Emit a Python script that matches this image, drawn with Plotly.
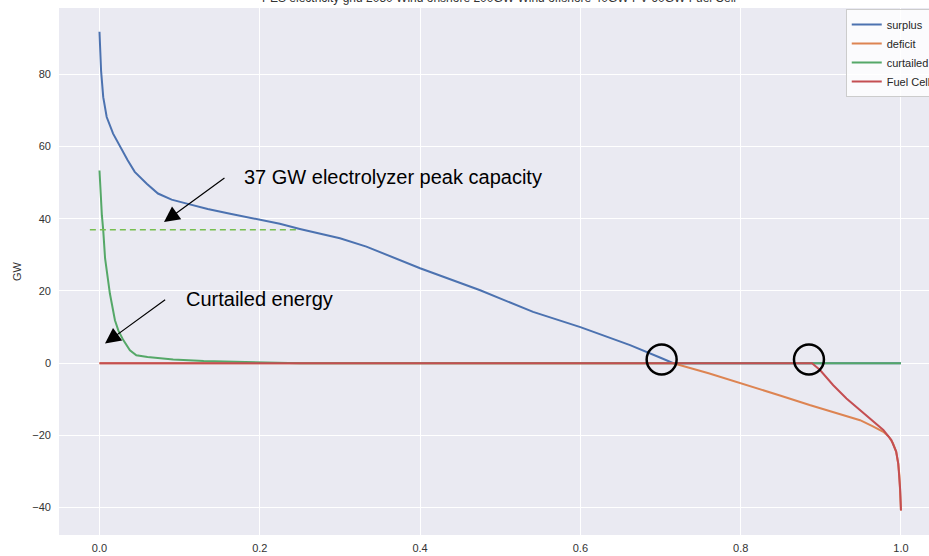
import plotly.graph_objects as go

# ---------------- data ----------------
surplus_x = [0.0, 0.001, 0.002, 0.0047, 0.009, 0.017, 0.0256, 0.035, 0.044, 0.059, 0.073, 0.09,
             0.109, 0.135, 0.163, 0.2, 0.225, 0.25, 0.3, 0.333, 0.4, 0.475, 0.541, 0.6, 0.662,
             0.7, 0.716, 0.8, 0.9, 1.0]
surplus_y = [91.8, 86.0, 81.0, 73.7, 68.2, 63.6, 59.9, 56.3, 53.0, 49.7, 47.0, 45.3,
             44.2, 42.7, 41.4, 39.7, 38.6, 37.2, 34.6, 32.3, 26.3, 20.2, 14.2, 10.0, 5.0,
             1.5, 0.0, 0.0, 0.0, 0.0]

deficit_x = [0.0, 0.3, 0.6, 0.716, 0.76, 0.803, 0.85, 0.886, 0.92, 0.949, 0.965, 0.978,
             0.985, 0.99, 0.994, 0.9966, 0.998, 0.999, 1.0]
deficit_y = [0.0, 0.0, 0.0, 0.0, -2.8, -5.7, -9.0, -11.6, -13.9, -15.8, -17.5, -19.0,
             -20.4, -22.2, -24.5, -27.8, -31.0, -35.0, -40.8]

curtailed_x = [0.0, 0.001, 0.003, 0.0047, 0.007, 0.013, 0.0193, 0.0235, 0.0297, 0.038, 0.046,
               0.06, 0.092, 0.13, 0.175, 0.21, 0.25, 0.5, 0.75, 1.0]
curtailed_y = [53.4, 48.0, 41.0, 36.8, 29.0, 19.3, 11.9, 9.1, 6.4, 3.6, 2.2,
               1.7, 1.0, 0.6, 0.36, 0.1, 0.0, 0.0, 0.0, 0.0]

fuelcell_x = [0.0, 0.3, 0.6, 0.889, 0.899, 0.9155, 0.932, 0.949, 0.965, 0.978, 0.988,
              0.992, 0.994, 0.9966, 0.998, 0.999, 1.0]
fuelcell_y = [0.0, 0.0, 0.0, 0.0, -1.9, -6.1, -9.8, -13.0, -15.8, -18.5, -21.3,
              -23.3, -24.5, -27.8, -31.0, -35.0, -40.8]

series_names = ["surplus", "deficit", "curtailed", "Fuel Cell"]
series_colors = ["#4C72B0", "#DD8452", "#55A868", "#C44E52"]

x_ticks = [0.0, 0.2, 0.4, 0.6, 0.8, 1.0]
y_ticks = [-40, -20, 0, 20, 40, 60, 80]

electrolyzer_cap = 37.0
electrolyzer_x = [-0.012, 0.25]

title_text = "PES electricity grid 2050 Wind onshore 200GW Wind offshore 40GW PV 60GW Fuel Cell"

# ---------------- figure ----------------
fig = go.Figure()
for xs, ys, name, col in zip([surplus_x, deficit_x, curtailed_x, fuelcell_x],
                             [surplus_y, deficit_y, curtailed_y, fuelcell_y],
                             series_names, series_colors):
    fig.add_trace(go.Scatter(x=xs, y=ys, mode="lines", name=name,
                             line=dict(color=col, width=2)))

# dashed electrolyzer capacity line
fig.add_trace(go.Scatter(x=electrolyzer_x, y=[electrolyzer_cap, electrolyzer_cap], mode="lines",
                         showlegend=False, hoverinfo="skip",
                         line=dict(color="#78BE50", width=1.5, dash="6px,4px")))

font_ann = "Liberation Sans, Arial, sans-serif"
# the original axes extend past the right edge of the 929-px window (legend cut off)
fig.update_layout(
    width=942, height=556,
    margin=dict(l=59, r=0, t=8, b=21),
    paper_bgcolor="white",
    plot_bgcolor="#EAEAF2",
    font=dict(family="Liberation Sans, Arial, sans-serif", size=11, color="#333333"),
    xaxis=dict(range=[-0.0505, 1.0512], tickvals=x_ticks, tickformat=".1f",
               showgrid=True, gridcolor="white", gridwidth=1.2, zeroline=False,
               showline=False, ticks="", ticklabelstandoff=5),
    yaxis=dict(range=[-47.6, 98.4], tickvals=y_ticks,
               showgrid=True, gridcolor="white", gridwidth=1.2, zeroline=False,
               showline=False, ticks="", ticklabelstandoff=7,
               title=dict(text="GW", standoff=8, font=dict(size=11, color="#333333"))),
    legend=dict(x=0.891, y=0.998, xanchor="left", yanchor="top",
                bgcolor="rgba(255,255,255,0.8)", bordercolor="#CCCCCC", borderwidth=1,
                font=dict(size=11, color="#262626"), tracegroupgap=0),
    showlegend=True,
)

# annotations: texts and arrows
fig.add_annotation(x=0.1578, y=51.6, xref="x", yref="y", text="37 GW electrolyzer peak capacity",
                   showarrow=False, xanchor="left", yanchor="middle",
                   xshift=16, yshift=0, font=dict(family=font_ann, size=20, color="black"))
fig.add_annotation(x=0.0805, y=39.1, ax=0.1578, ay=51.6, xref="x", yref="y", axref="x", ayref="y",
                   text="", showarrow=True, arrowhead=2, arrowsize=2.6, arrowwidth=1.2,
                   arrowcolor="black")
fig.add_annotation(x=0.0838, y=17.9, xref="x", yref="y", text="Curtailed energy",
                   showarrow=False, xanchor="left", yanchor="middle",
                   xshift=17, yshift=0, font=dict(family=font_ann, size=20, color="black"))
fig.add_annotation(x=0.0069, y=5.45, ax=0.0838, ay=17.9, xref="x", yref="y", axref="x", ayref="y",
                   text="", showarrow=True, arrowhead=2, arrowsize=2.6, arrowwidth=1.2,
                   arrowcolor="black")

# cut-off title at top
fig.add_annotation(x=0.498, y=1.0, xref="paper", yref="paper", text=title_text,
                   showarrow=False, xanchor="center", yanchor="bottom", yshift=1,
                   font=dict(family="Liberation Sans, Arial, sans-serif", size=12, color="#333333"))

# black circles highlighting crossing points
for cx in [0.7014, 0.8852]:
    fig.add_shape(type="circle", xref="x", yref="y",
                  x0=cx - 0.0187, x1=cx + 0.0187, y0=1.02 - 4.15, y1=1.02 + 4.15,
                  line=dict(color="black", width=2.5))

fig.write_html("out.html", post_script="document.body.style.overflow='hidden';"
               "document.documentElement.style.overflow='hidden';")
